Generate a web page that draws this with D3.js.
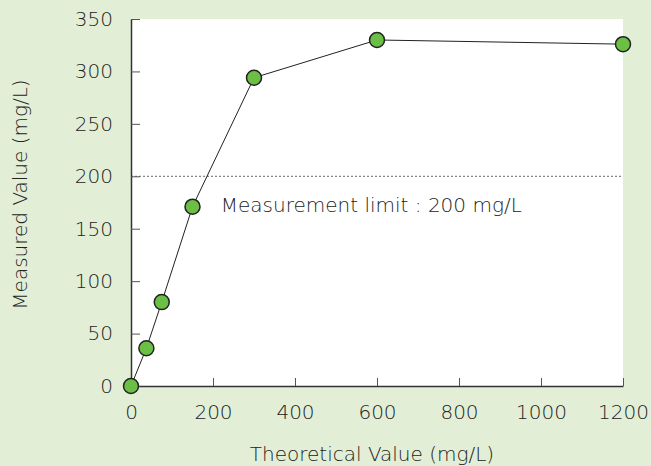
<!DOCTYPE html>
<html>
<head>
<meta charset="utf-8">
<script src="https://cdn.jsdelivr.net/npm/d3@7"></script>
<style>
  body { margin: 0; background: #e2efd6; }
  svg { display: block; }
  text { font-family: "DejaVu Sans", sans-serif; font-weight: 300; fill: #222; }
</style>
</head>
<body>
<div class="chart"></div>
<script>
// data
let theoretical = [0, 37.5, 75, 150, 300, 600, 1200];
let measured = [0, 36, 80, 171, 294, 330, 326];
let xTicks = [0, 200, 400, 600, 800, 1000, 1200];
let yTicks = [0, 50, 100, 150, 200, 250, 300, 350];
let limit = 200;
let limitLabel = "Measurement limit : 200 mg/L";

let width = 651, height = 466;
let margin = {left: 131, right: 28, top: 19, bottom: 80};
let fontFam = '"DejaVu Sans", sans-serif';

let svg = d3.select('.chart').append("svg")
    .attr('width', width).attr('height', height);

svg.append("rect").attr("width", width).attr("height", height).attr("fill", "#e2efd6");

let x = d3.scaleLinear().domain([0, 1200]).range([margin.left, width - margin.right]);
let y = d3.scaleLinear().domain([0, 350]).range([height - margin.bottom, margin.top]);

// plot background
svg.append("rect")
    .attr("x", x(0)).attr("y", y(350))
    .attr("width", x(1200) - x(0)).attr("height", y(0) - y(350))
    .attr("fill", "#fff");

// limit line
svg.append("line")
    .attr("x1", x(0)).attr("x2", x(1200))
    .attr("y1", y(limit)).attr("y2", y(limit))
    .attr("stroke", "#666").attr("stroke-width", 1)
    .attr("stroke-dasharray", "2,2");

svg.append("text")
    .attr("x", x(219)).attr("y", y(limit) + 36)
    .attr("font-size", 20)
    .text(limitLabel);

// axes, ticks pointing inward
let xAxis = svg.append("g")
    .attr("transform", `translate(0,${y(0)})`)
    .call(d3.axisBottom(x).tickValues(xTicks).tickFormat(d3.format("d"))
        .tickSizeInner(-8).tickSizeOuter(0).tickPadding(19));
let yAxis = svg.append("g")
    .attr("transform", `translate(${x(0)},0)`)
    .call(d3.axisLeft(y).tickValues(yTicks).tickSizeInner(-9).tickSizeOuter(0).tickPadding(18));

[xAxis, yAxis].forEach(g => {
    g.select(".domain").attr("stroke", "#333").attr("stroke-width", 1.5);
    g.selectAll(".tick line").attr("stroke", "#555").attr("stroke-width", 1);
    g.selectAll(".tick text").attr("font-size", 20).attr("fill", "#222")
        .style("font-family", fontFam).style("font-weight", 300);
});

// axis titles
svg.append("text")
    .attr("x", (x(0) + x(1200)) / 2 - 5).attr("y", 461)
    .attr("text-anchor", "middle").attr("font-size", 20)
    .text("Theoretical Value (mg/L)");

svg.append("text")
    .attr("transform", `translate(27,${(y(0) + y(350)) / 2 - 8}) rotate(-90)`)
    .attr("text-anchor", "middle").attr("font-size", 20)
    .text("Measured Value (mg/L)");

// series
let pts = theoretical.map((t, i) => ({t: t, m: measured[i]}));

svg.append("path")
    .datum(pts)
    .attr("fill", "none").attr("stroke", "#222").attr("stroke-width", 1)
    .attr("d", d3.line().x(d => x(d.t)).y(d => y(d.m)));

svg.append("g")
    .selectAll("circle")
    .data(pts)
    .enter().append("circle")
    .attr("cx", d => x(d.t))
    .attr("cy", d => y(d.m))
    .attr("r", 7.5)
    .attr("fill", "#6cbf45")
    .attr("stroke", "#222")
    .attr("stroke-width", 1.5);
</script>
</body>
</html>
